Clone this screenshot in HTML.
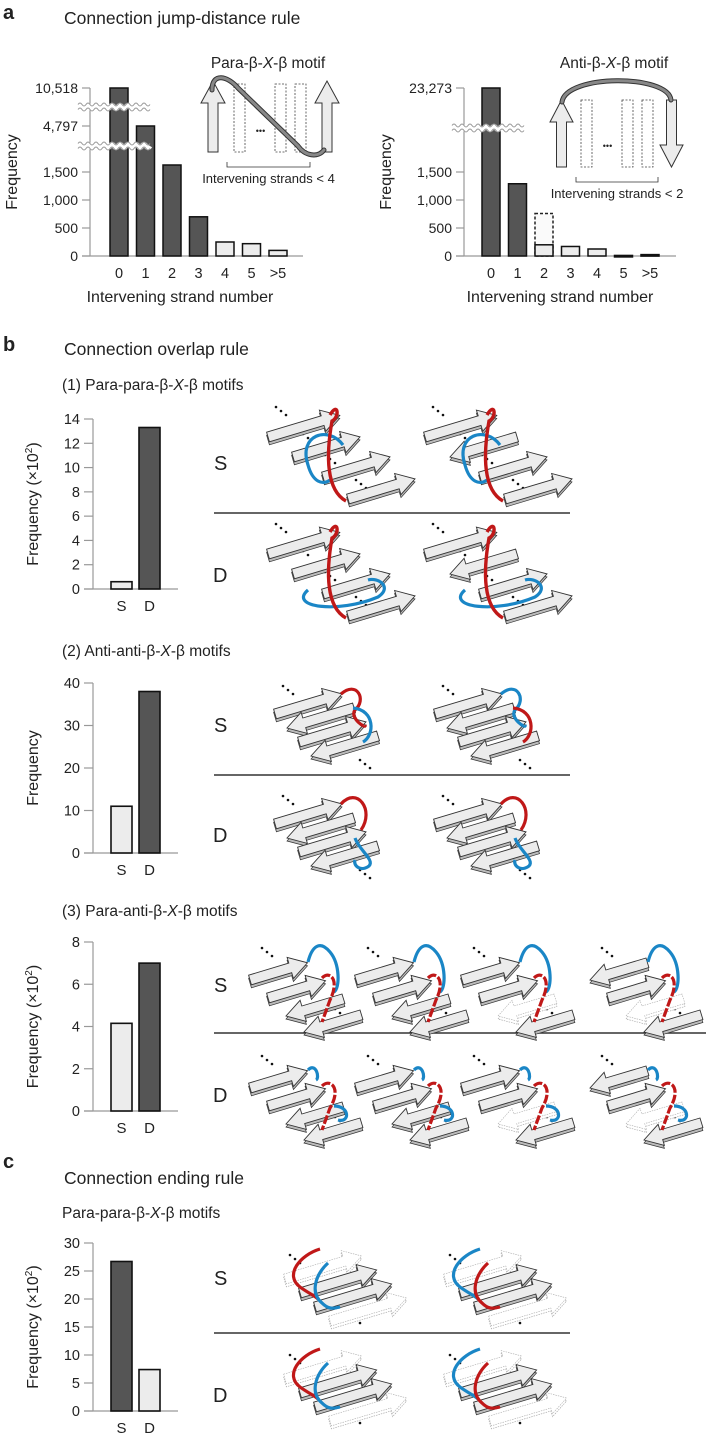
<!DOCTYPE html>
<html><head><meta charset="utf-8">
<style>
html,body{margin:0;padding:0;background:#fff}
svg{display:block}
text{font-family:"Liberation Sans",sans-serif;fill:#222}
</style></head>
<body>
<svg id="fig" width="706" height="1438" viewBox="0 0 706 1438" xmlns="http://www.w3.org/2000/svg">
<g id="static">
<text x="3" y="19" font-size="20" font-weight="bold">a</text>
<text x="64" y="24" font-size="17.5">Connection jump-distance rule</text>
<text x="3" y="351" font-size="20" font-weight="bold">b</text>
<text x="64" y="355" font-size="17.5">Connection overlap rule</text>
<text x="62" y="390" font-size="15.5">(1) Para-para-β-<tspan font-style="italic">X</tspan>-β motifs</text>
<text x="62" y="656" font-size="15.5">(2) Anti-anti-β-<tspan font-style="italic">X</tspan>-β motifs</text>
<text x="62" y="916" font-size="15.5">(3) Para-anti-β-<tspan font-style="italic">X</tspan>-β motifs</text>
<text x="3" y="1168" font-size="20" font-weight="bold">c</text>
<text x="64" y="1184" font-size="17.5">Connection ending rule</text>
<text x="62" y="1218" font-size="15.5">Para-para-β-<tspan font-style="italic">X</tspan>-β motifs</text>
</g>
</svg>
<script>
// ---------- data ----------
const catsA = ["0","1","2","3","4","5",">5"];
const valsA1 = [10518, 4797, 1650, 700, 250, 220, 100];
const darkA1 = [1,1,1,1,0,0,0];
const ticksA1 = [0,500,1000,1500,4797,10518];
const tickLabelsA1 = ["0","500","1,000","1,500","4,797","10,518"];
const valsA2 = [23273, 1290, 200, 170, 125, 10, 25];
const dashedA2 = [null, null, 760, null, null, null, null];
const darkA2 = [1,1,0,0,0,0,0];
const ticksA2 = [0,500,1000,1500,23273];
const tickLabelsA2 = ["0","500","1,000","1,500","23,273"];
const catsSD = ["S","D"];
const valsB1 = [0.6, 13.3];
const ticksB1 = [0,2,4,6,8,10,12,14];
const valsB2 = [11, 38];
const ticksB2 = [0,10,20,30,40];
const valsB3 = [4.15, 7.0];
const ticksB3 = [0,2,4,6,8];
const valsC = [26.7, 7.4];
const ticksC = [0,5,10,15,20,25,30];

const NS="http://www.w3.org/2000/svg";
const svg=document.getElementById('fig');
function el(tag,attrs,parent){const e=document.createElementNS(NS,tag);for(const k in attrs)e.setAttribute(k,attrs[k]);(parent||svg).appendChild(e);return e;}
function txt(s,attrs,parent){const e=el('text',attrs,parent);e.textContent=s;return e;}
const DARK="#555", LIGHT="#ececec";

// ---------- panel a ----------
function piecewise(pts){return v=>{for(let i=1;i<pts.length;i++){if(v<=pts[i][0]||i==pts.length-1){const a=pts[i-1],b=pts[i];return a[1]+(v-a[0])/(b[0]-a[0])*(b[1]-a[1]);}}};}
function brokenChart(name,axisX,axisEnd,x0,step,cats,vals,dark,ticks,labels,yScale,breaks,dashed){
  const g=el('g',{});
  
  
  const ax=el('line',{x1:axisX,y1:88,x2:axisX,y2:256,stroke:'#999','stroke-width':1.2},g);
  
  
  const xa=el('line',{x1:axisX-8,y1:256,x2:axisEnd,y2:256,stroke:'#999','stroke-width':1.2},g);
  
  
  ticks.forEach((t,i)=>{const y=yScale(t);
    el('line',{x1:axisX-8,y1:y,x2:axisX,y2:y,stroke:'#999','stroke-width':1.2},g);
    const tl=txt(labels[i],{x:axisX-12,y:y+5,'font-size':14,'text-anchor':'end'},g);
    
    });
  cats.forEach((c,i)=>{const cx=x0+i*step;const y=yScale(vals[i]);
    if(dashed&&dashed[i]!=null){const yd=yScale(dashed[i]);
      const d=el('rect',{x:cx-9,y:yd,width:18,height:256-yd,fill:'#fafafa',stroke:'#222','stroke-width':1.5,'stroke-dasharray':'3,2'},g);
      
      }
    const b=el('rect',{x:cx-9,y:y,width:18,height:Math.max(256-y,1.5),fill:dark[i]?DARK:LIGHT,stroke:'#111','stroke-width':1.5},g);
    
    
    const xl=txt(c,{x:cx,y:278,'font-size':14.5,'text-anchor':'middle'},g);
    
    });
  breaks.forEach(by=>{let d='M'+(axisX-12)+' '+by;for(let x=axisX-12;x<axisX+60;x+=8){d+=' q2 -3 4 0 q2 3 4 0';}
    const w=el('path',{d:d,fill:'none',stroke:'#fff','stroke-width':5},g);
    
    
    el('path',{d:d,fill:'none',stroke:'#999','stroke-width':1,transform:'translate(0,-2.5)'},g);
    el('path',{d:d,fill:'none',stroke:'#999','stroke-width':1,transform:'translate(0,2.5)'},g);});
  return g;
}
const yA1=piecewise([[0,256],[1500,172],[1800,158],[4797,126],[10518,88]]);
brokenChart('chart-a-left',90,303,119,26.5,catsA,valsA1,darkA1,ticksA1,tickLabelsA1,yA1,[107,146]);
const yA2=piecewise([[0,256],[1500,172],[2000,140],[23273,88]]);
brokenChart('chart-a-right',464,676,491,26.5,catsA,valsA2,darkA2,ticksA2,tickLabelsA2,yA2,[128],dashedA2);
[[12,172],[386,172]].forEach(p=>{const t=txt('Frequency',{x:p[0],y:p[1],'font-size':16,'text-anchor':'middle',transform:`rotate(-90 ${p[0]} ${p[1]})`,dy:5});
  
  });
[[180,302],[560,302]].forEach(p=>{const t=txt('Intervening strand number',{x:p[0],y:p[1],'font-size':16,'text-anchor':'middle'});
  
  });

// insets
function upArrow(x,yTop,yBot,w,g){const c=x+w/2;return el('path',{d:`M${x} ${yTop+22} L${c} ${yTop} L${x+w} ${yTop+22} L${c+5} ${yTop+22} L${c+5} ${yBot} L${c-5} ${yBot} L${c-5} ${yTop+22} Z`,fill:LIGHT,stroke:'#333','stroke-width':1},g);}
function downArrow(x,yTop,yBot,w,g){const c=x+w/2;return el('path',{d:`M${x} ${yBot-22} L${c} ${yBot} L${x+w} ${yBot-22} L${c+5} ${yBot-22} L${c+5} ${yTop} L${c-5} ${yTop} L${c-5} ${yBot-22} Z`,fill:LIGHT,stroke:'#333','stroke-width':1},g);}
function inset(name,title,tcx,tY,rects,yT,yB,arrowsFn,curve,br,brY,label){
  const g=el('g',{});
  
  
  const t=txt('',{x:tcx,y:tY,'font-size':15.5,'text-anchor':'middle'},g);
  t.innerHTML=title;
  rects.forEach(x=>el('rect',{x:x,y:yT,width:11,height:yB-yT,fill:'none',stroke:'#444','stroke-width':0.8,'stroke-dasharray':'2,1.5'},g));
  txt('•••',{x:(rects[0]+rects[1])/2+6,y:yB-18,'font-size':9,'text-anchor':'middle'},g);
  arrowsFn(g);
  el('path',{d:curve,fill:'none',stroke:'#333','stroke-width':5,'stroke-linecap':'round'},g);
  el('path',{d:curve,fill:'none',stroke:'#888','stroke-width':3,'stroke-linecap':'round'},g);
  el('path',{d:`M${br[0]} ${brY-5} L${br[0]} ${brY} L${br[1]} ${brY} L${br[1]} ${brY-5}`,fill:'none',stroke:'#333','stroke-width':0.8},g);
  txt(label,{x:(br[0]+br[1])/2,y:brY+16,'font-size':13,'text-anchor':'middle'},g);
}
inset('inset-para','Para-β-<tspan font-style="italic">X</tspan>-β motif',268,68,[234,275,295],84,152,
  g=>{upArrow(201,81,152,24,g);upArrow(315,81,152,24,g);},
  'M212 90 C212 72 228 76 238 88 L298 146 C305 156 318 158 324 150',[227,310],167,'Intervening strands < 4');
inset('inset-anti','Anti-β-<tspan font-style="italic">X</tspan>-β motif',614,68,[581,622,642],100,167,
  g=>{upArrow(550,100,167,23,g);downArrow(660,100,167,23,g);},
  'M562 102 C566 74 668 74 671 100',[576,658],182,'Intervening strands < 2');

// ---------- S/D bar charts ----------
function sdChart(name,y0,yTop,maxV,vals,ticks,dark,title){
  const g=el('g',{});
  
  
  const y=v=>y0-(v/maxV)*(y0-yTop);
  const ax=el('line',{x1:93,y1:yTop,x2:93,y2:y0,stroke:'#999','stroke-width':1.2},g);
  
  
  const xa=el('line',{x1:84,y1:y0,x2:178,y2:y0,stroke:'#999','stroke-width':1.2},g);
  
  
  ticks.forEach(t=>{const yy=y(t);el('line',{x1:84,y1:yy,x2:93,y2:yy,stroke:'#999','stroke-width':1.2},g);
    const tl=txt(String(t),{x:80,y:yy+5,'font-size':14.5,'text-anchor':'end'},g);
    
    });
  catsSD.forEach((c,i)=>{const x=111+i*28;const yy=y(vals[i]);
    const b=el('rect',{x:x,y:yy,width:21,height:y0-yy,fill:dark[i]?DARK:LIGHT,stroke:'#111','stroke-width':1.6},g);
    
    
    const xl=txt(c,{x:x+10.5,y:y0+22,'font-size':15,'text-anchor':'middle'},g);
    
    });
  const cy=(y0+yTop)/2;
  const t=txt('',{x:38,y:cy,'font-size':16,'text-anchor':'middle',transform:`rotate(-90 38 ${cy})`});
  t.innerHTML=title;
  g.appendChild(t);
  
  
}
const x102='Frequency (×10<tspan font-size="10" dy="-6">2</tspan><tspan dy="6">)</tspan>';
sdChart('chart-b1',589,419,14,valsB1,ticksB1,[0,1],x102);
sdChart('chart-b2',853,683,40,valsB2,ticksB2,[0,1],'Frequency');
sdChart('chart-b3',1111,942,8,valsB3,ticksB3,[0,1],x102);
sdChart('chart-c',1411,1243,30,valsC,ticksC,[1,0],x102);

// ---------- schematic illustrations ----------
function sdLabels(yS,yD,yLine,x2){
  const s=txt('S',{x:214,y:yS+7,'font-size':20});
  
  
  const d=txt('D',{x:213,y:yD+7,'font-size':20});
  
  
  const l=el('line',{x1:214,y1:yLine,x2:x2,y2:yLine,stroke:'#333','stroke-width':1.5});
  
  
}
function strand(g,x,y,len,dir,faint){
  // slab arrow slanted up-right; dir=1 points right, -1 points left
  const ux=1, uy=-0.3, n=Math.hypot(ux,uy);
  const ax=ux/n, ay=uy/n; // along
  const px=-ay, py=ax;     // perpendicular (down-right)
  const hw=5, hh=11, hl=18;
  const sx=x, sy=y, ex=x+ax*len, ey=y+ay*len;
  let tip,base,tail;
  if(dir>0){tip=[ex,ey];base=[ex-ax*hl,ey-ay*hl];tail=[sx,sy];}
  else {tip=[sx,sy];base=[sx+ax*hl,sy+ay*hl];tail=[ex,ey];}
  const P=(p,k)=>`${(p[0]+px*k).toFixed(1)},${(p[1]+py*k).toFixed(1)}`;
  const pts=[P(tail,-hw),P(base,-hw),P(base,-hh),P(tip,0),P(base,hh),P(base,hw),P(tail,hw)].join(' ');
  // thickness edge
  el('polygon',{points:pts,fill:faint?'#fff':'#bbb',stroke:faint?'#aaa':'#333','stroke-width':0.7,transform:'translate(0,3)','stroke-dasharray':faint?'1.5,1':'none'},g);
  el('polygon',{points:pts,fill:faint?'#fff':'#ececec',stroke:faint?'#aaa':'#333','stroke-width':faint?0.6:0.9,'stroke-dasharray':faint?'1.5,1':'none'},g);
}
function dots(g,x,y){for(let i=0;i<3;i++)el('circle',{cx:x+i*5,cy:y+i*4,r:1.3,fill:'#111'},g);}
function motif(name,x,y,kind,i){
  const g=el('g',{transform:`translate(${x},${y})`});
  
  
  if(kind==='b1'){
    dots(g,8,2);dots(g,30,25);dots(g,57,50);dots(g,88,75);
    strand(g,0,32,75,1);strand(g,25,52,70,i%2?-1:1);strand(g,55,72,70,1);strand(g,80,94,70,1);
    const blue=i<2?'M75 40 C60 20 30 30 40 60 C45 78 55 80 62 75':'M40 68 C20 85 70 92 110 75 C125 65 110 55 100 58';
    el('path',{d:blue,fill:'none',stroke:'#1a86c6','stroke-width':3.2},g);
    el('path',{d:'M62 10 C70 -4 72 12 64 16 C58 50 58 85 78 96',fill:'none',stroke:'#c01818','stroke-width':3.4},g);
  } else if(kind==='b2'){
    dots(g,8,6);dots(g,85,80);
    strand(g,0,34,70,1);strand(g,12,48,70,-1);strand(g,24,62,70,1);strand(g,36,76,70,-1);
    if(i<2){el('path',{d:'M66 14 C82 0 92 20 80 30 C74 38 92 50 90 45',fill:'none',stroke:i?'#1a86c6':'#c01818','stroke-width':3.2},g);
      el('path',{d:'M78 28 C100 30 100 55 88 62',fill:'none',stroke:i?'#c01818':'#1a86c6','stroke-width':3.2},g);}
    else {el('path',{d:'M66 14 C82 -4 100 20 86 40',fill:'none',stroke:'#c01818','stroke-width':3.2},g);
      el('path',{d:'M80 48 C84 60 100 70 94 76 C86 82 78 76 80 70',fill:'none',stroke:'#1a86c6','stroke-width':3.2},g);}
  } else if(kind==='b3'){
    const faint=i%4>=2;
    dots(g,12,8);dots(g,80,65);
    strand(g,0,40,60,i%4===3?-1:1);strand(g,18,58,60,1,false);strand(g,36,76,60,-1,faint);strand(g,54,92,60,-1);
    if(i<4){el('path',{d:'M58 22 C62 6 70 0 80 12 C90 24 90 48 84 52',fill:'none',stroke:'#1a86c6','stroke-width':3.2},g);
      el('path',{d:'M72 38 C80 30 90 40 80 60 L72 82',fill:'none',stroke:'#c01818','stroke-width':3.2,'stroke-dasharray':'9,2'},g);}
    else {el('path',{d:'M58 22 C66 14 70 30 66 32',fill:'none',stroke:'#1a86c6','stroke-width':3.2},g);
      el('path',{d:'M72 38 C80 30 92 40 80 60 L72 82',fill:'none',stroke:'#c01818','stroke-width':3.2,'stroke-dasharray':'9,2'},g);
      el('path',{d:'M84 58 C100 58 100 75 88 72',fill:'none',stroke:'#1a86c6','stroke-width':3.2},g);}
  } else {
    dots(g,20,10);dots(g,80,70);
    strand(g,15,34,80,1,true);strand(g,30,48,80,1);strand(g,45,62,80,1);strand(g,60,76,80,1,true);
    const top=i%2?'#1a86c6':'#c01818', bot=i%2?'#c01818':'#1a86c6';
    el('path',{d:'M50 4 C30 10 14 30 30 42 C38 48 44 50 48 54',fill:'none',stroke:top,'stroke-width':3.2},g);
    el('path',{d:'M58 18 C45 30 40 48 52 58 C58 64 62 64 70 62',fill:'none',stroke:bot,'stroke-width':3.2},g);
  }
}
// b1
sdLabels(463,575,513,570);
motif('motif-b1-s1',268,405,'b1',0);motif('motif-b1-s2',425,405,'b1',1);
motif('motif-b1-d1',268,522,'b1',2);motif('motif-b1-d2',425,522,'b1',3);
// b2
sdLabels(725,835,775,570);
motif('motif-b2-s1',275,680,'b2',0);motif('motif-b2-s2',435,680,'b2',1);
motif('motif-b2-d1',275,790,'b2',2);motif('motif-b2-d2',435,790,'b2',3);
// b3
sdLabels(985,1095,1033,706);
[250,356,462,590].forEach((x,k)=>{motif('motif-b3-s'+(k+1),x,940,'b3',k);motif('motif-b3-d'+(k+1),x,1048,'b3',k+4);});
// c
sdLabels(1278,1395,1333,570);
motif('motif-c-s1',270,1245,'c',0);motif('motif-c-s2',430,1245,'c',1);
motif('motif-c-d1',270,1345,'c',0);motif('motif-c-d2',430,1345,'c',1);
</script>
</body></html>
